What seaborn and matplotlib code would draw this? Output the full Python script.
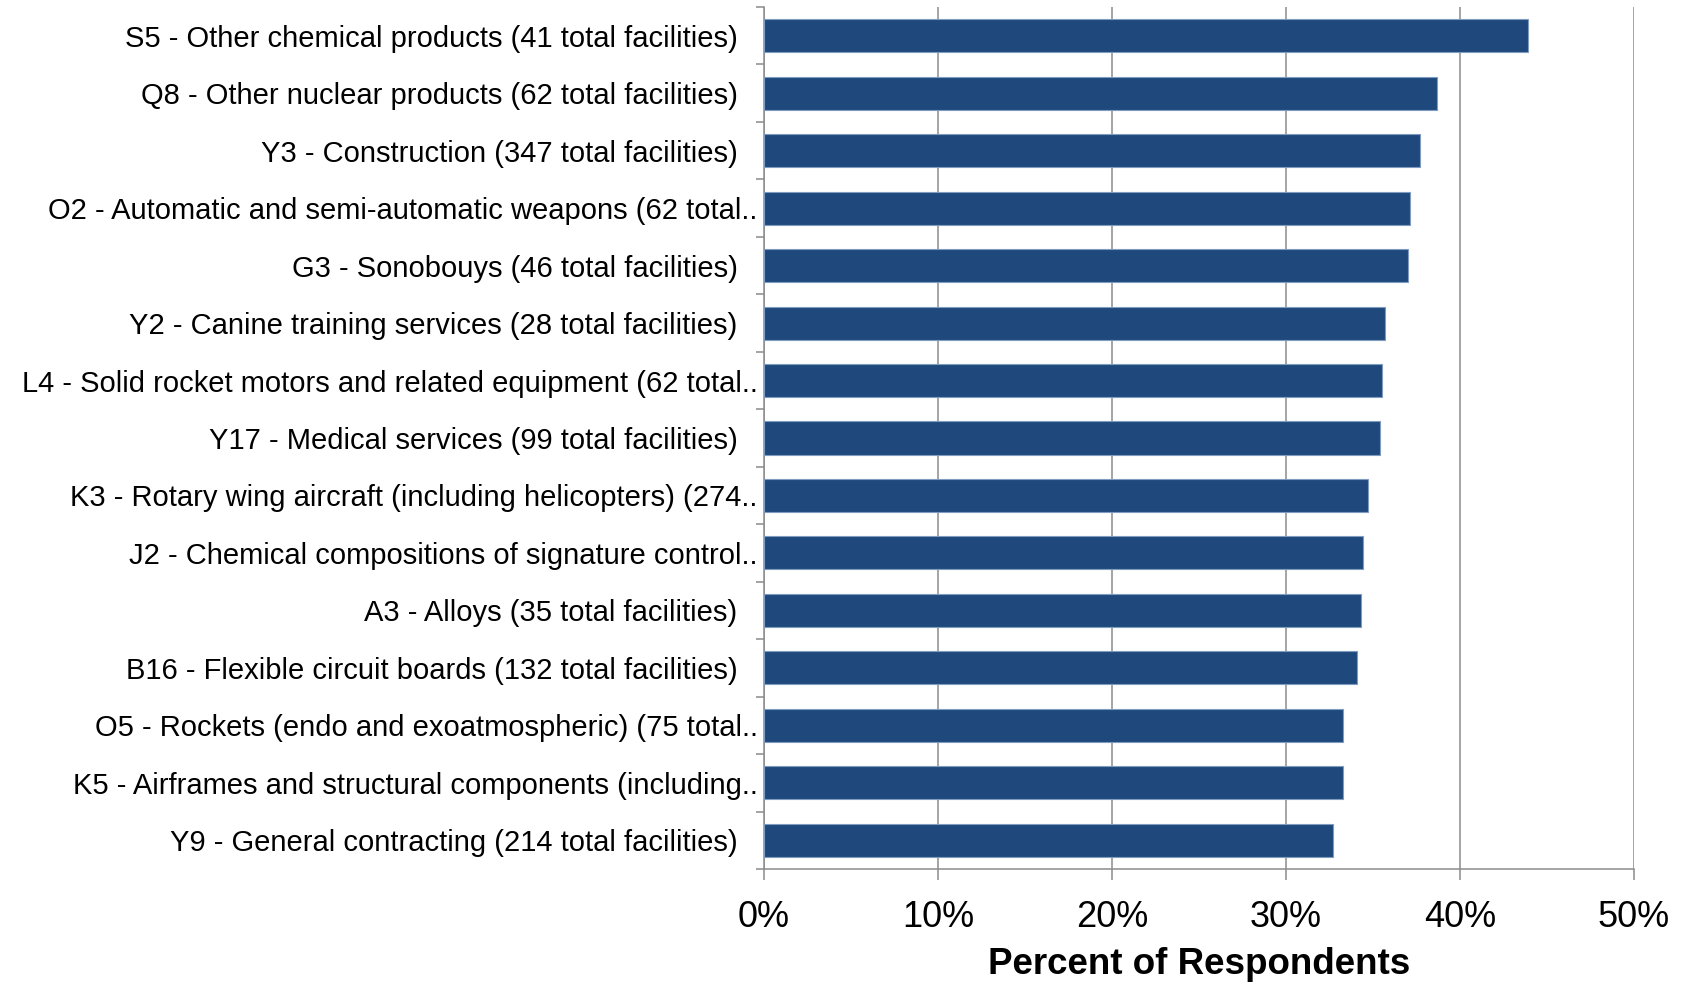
import matplotlib
matplotlib.use("Agg")
import matplotlib.pyplot as plt
import matplotlib.transforms as mtransforms
from matplotlib.ticker import FixedLocator, FuncFormatter
import seaborn as sns
import pandas as pd
import numpy as np

categories = [
    "S5 - Other chemical products (41 total facilities)",
    "Q8 - Other nuclear products (62 total facilities)",
    "Y3 - Construction (347 total facilities)",
    "O2 - Automatic and semi-automatic weapons (62 total..",
    "G3 - Sonobouys (46 total facilities)",
    "Y2 - Canine training services (28 total facilities)",
    "L4 - Solid rocket motors and related equipment (62 total..",
    "Y17 - Medical services (99 total facilities)",
    "K3 - Rotary wing aircraft (including helicopters) (274..",
    "J2 - Chemical compositions of signature control..",
    "A3 - Alloys (35 total facilities)",
    "B16 - Flexible circuit boards (132 total facilities)",
    "O5 - Rockets (endo and exoatmospheric) (75 total..",
    "K5 - Airframes and structural components (including..",
    "Y9 - General contracting (214 total facilities)",
]
percent_values = [43.9, 38.7, 37.7, 37.1, 37.0, 35.7, 35.5, 35.4, 34.7, 34.4, 34.3, 34.1, 33.3, 33.3, 32.7]
x_ticks = [0, 10, 20, 30, 40, 50]
x_label = "Percent of Respondents"

sns.set_style("white")
plt.rcParams["font.family"] = ["Liberation Sans", "DejaVu Sans"]
plt.rcParams["text.color"] = "black"
plt.rcParams["axes.labelcolor"] = "black"
plt.rcParams["xtick.labelcolor"] = "black"
plt.rcParams["ytick.labelcolor"] = "black"

df = pd.DataFrame({"category": categories, "percent": percent_values})

fig = plt.figure(figsize=(16.88, 9.82), dpi=100)
ax = fig.add_axes([764 / 1688, 1 - 869 / 982, 870 / 1688, 862 / 982])

bar_color = "#1F497D"
grid_color = "#8C8C8C"

sns.barplot(data=df, y="category", x="percent", orient="h", color=bar_color,
            width=0.575, saturation=1, ax=ax, edgecolor="#7F9BC0", linewidth=0.8, zorder=3)

ax.set_xlim(x_ticks[0], x_ticks[-1])
ax.set_ylim(len(categories) - 0.5, -0.5)

ax.xaxis.set_major_locator(FixedLocator(x_ticks))
ax.xaxis.set_major_formatter(FuncFormatter(lambda v, p: f"{v:.0f}%"))
ax.grid(axis="x", color=grid_color, linewidth=1.1, zorder=0)
ax.set_axisbelow(True)

for side in ["top", "right"]:
    ax.spines[side].set_visible(False)
for side in ["left", "bottom"]:
    ax.spines[side].set_color(grid_color)
    ax.spines[side].set_linewidth(1.1)

ax.tick_params(axis="x", which="major", direction="out", length=8, width=1.1,
               color=grid_color, labelsize=26, pad=14, bottom=True, labelcolor="black")
ax.tick_params(axis="y", which="major", length=0, pad=19, labelsize=21, labelcolor="black")
ax.yaxis.set_minor_locator(FixedLocator(np.arange(-0.5, len(categories), 1.0)))
ax.tick_params(axis="y", which="minor", direction="out", length=5.5, width=1.1,
               color=grid_color, left=True)

ax.set_ylabel("")
ax.set_xlabel(x_label, fontsize=26.5, fontweight="bold", labelpad=9, color="black")

# truncated labels sit closer to the axis
shift = mtransforms.ScaledTranslation(20 / 100, 0, fig.dpi_scale_trans)
for lbl in ax.get_yticklabels():
    if lbl.get_text().endswith(".."):
        lbl.set_transform(lbl.get_transform() + shift)

fig.savefig("out.png", dpi=100, facecolor="white")
